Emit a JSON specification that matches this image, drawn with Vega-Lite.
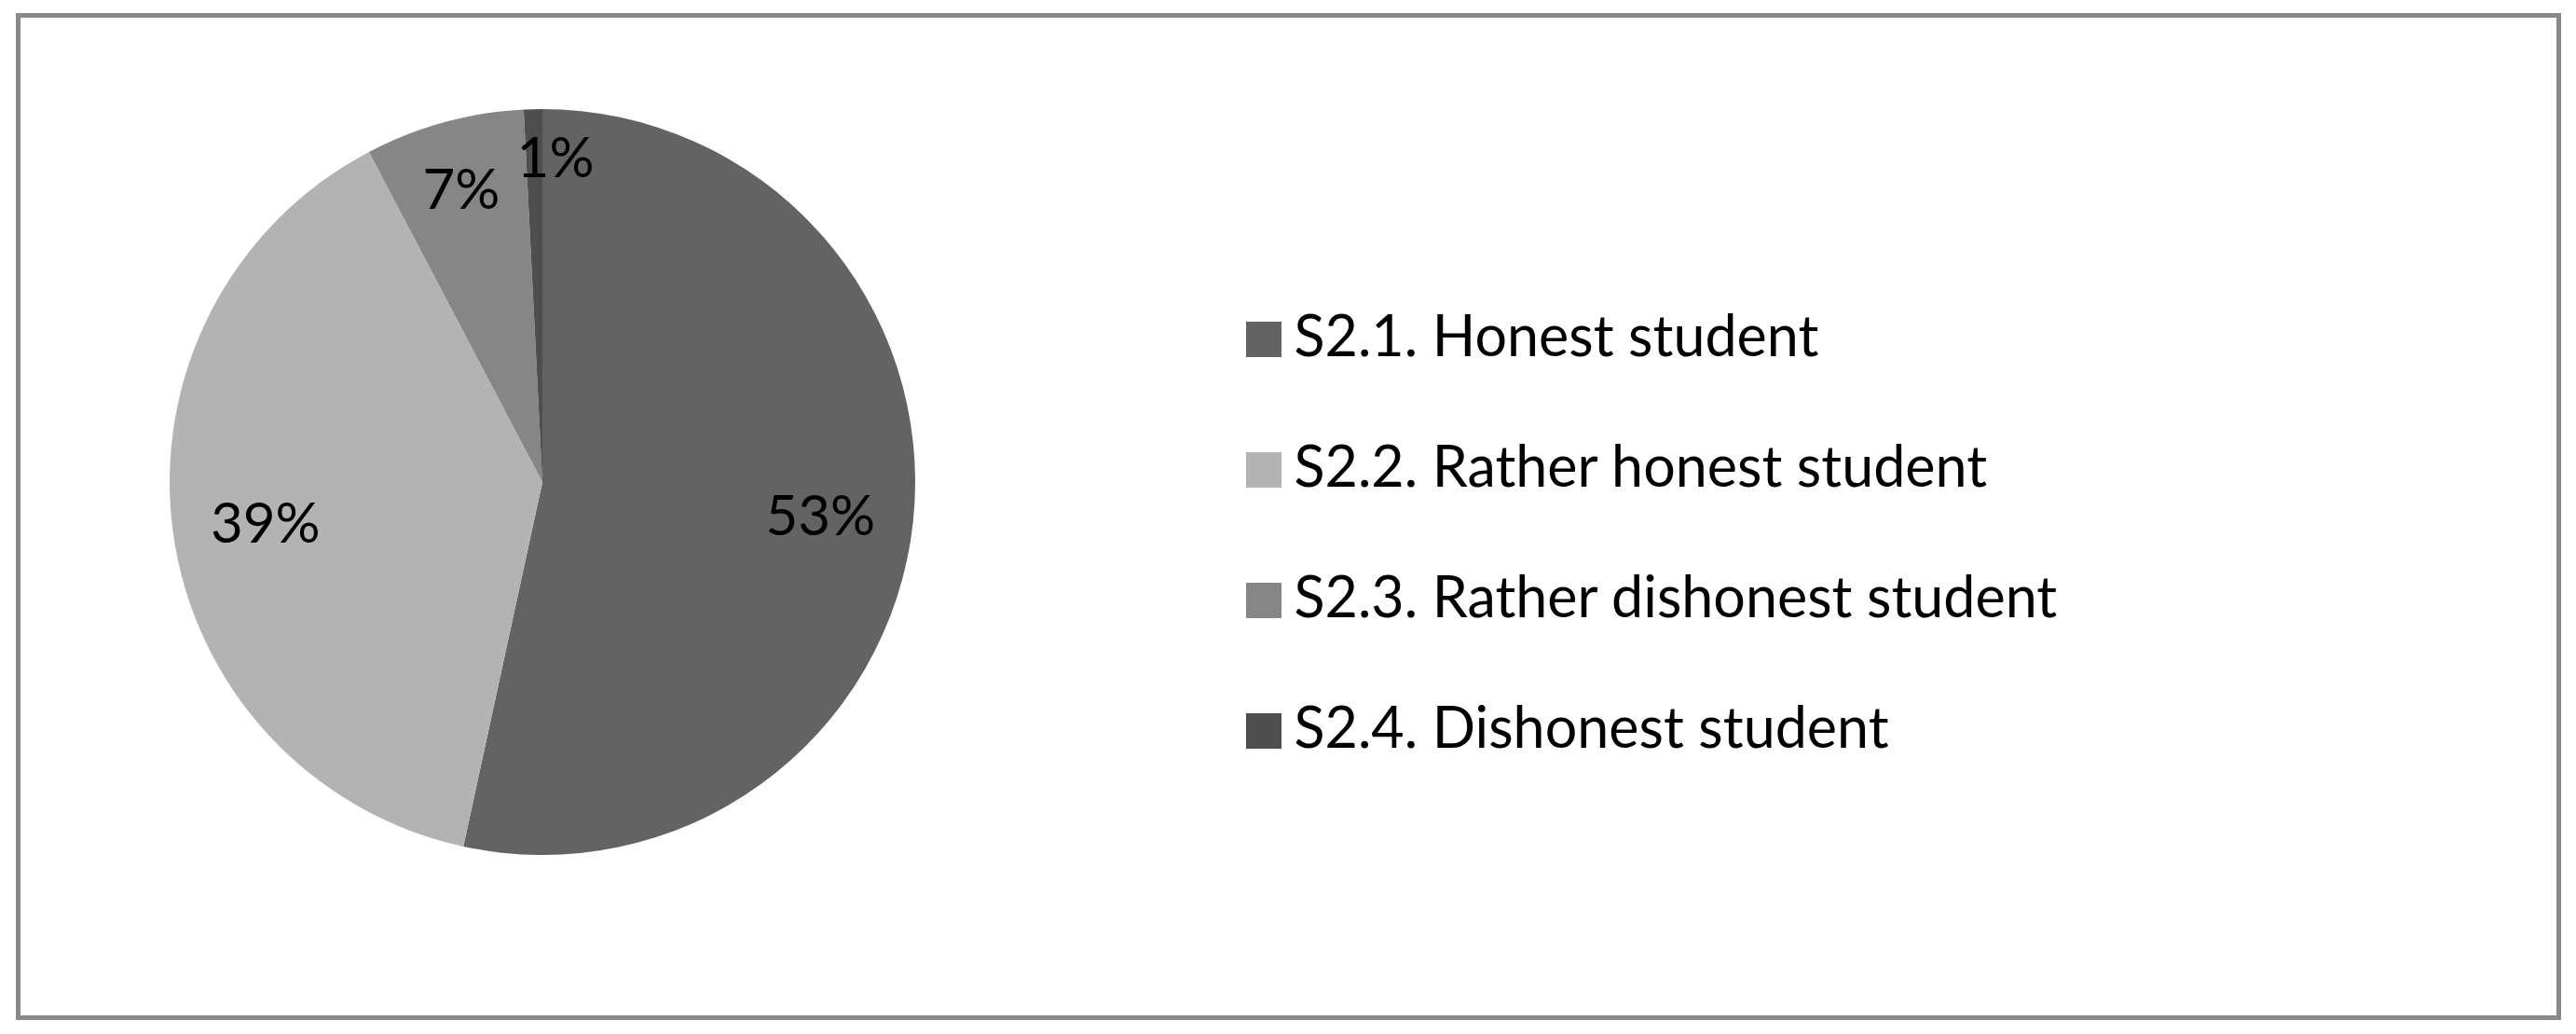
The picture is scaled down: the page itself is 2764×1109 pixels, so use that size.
{
  "$schema": "https://vega.github.io/schema/vega-lite/v6.json",
  "width": 2726,
  "height": 1075,
  "autosize": {"type": "none"},
  "padding": {"left": 19.5, "top": 16.5, "right": 18.5, "bottom": 17.5},
  "background": "white",
  "view": {"stroke": "#898989", "strokeWidth": 5, "fill": "white"},
  "config": {"view": {"stroke": "#898989", "strokeWidth": 5}},
  "data": {
    "values": [
      {"idx": 1, "cat": "S2.1. Honest student", "value": 53.4, "label": "53%"},
      {"idx": 2, "cat": "S2.2. Rather honest student", "value": 38.9, "label": "39%"},
      {"idx": 3, "cat": "S2.3. Rather dishonest student", "value": 6.9, "label": "7%"},
      {"idx": 4, "cat": "S2.4. Dishonest student", "value": 0.8, "label": "1%"}
    ]
  },
  "encoding": {
    "theta": {"field": "value", "type": "quantitative", "stack": true},
    "order": {"field": "idx", "type": "quantitative"},
    "color": {
      "field": "cat",
      "type": "nominal",
      "sort": null,
      "scale": {
        "domain": ["S2.1. Honest student", "S2.2. Rather honest student", "S2.3. Rather dishonest student", "S2.4. Dishonest student"],
        "range": ["#636363", "#b3b3b3", "#868686", "#4e4e4e"]
      },
      "legend": {
        "orient": "none",
        "legendX": 1306,
        "legendY": 317,
        "title": null,
        "padding": 0,
        "symbolType": "square",
        "symbolSize": 1444,
        "symbolStrokeWidth": 0,
        "symbolOpacity": 1,
        "labelFont": "Lato",
        "labelFontSize": 61,
        "labelColor": "black",
        "labelOffset": 2,
        "labelLimit": 2000,
        "rowPadding": 78
      }
    }
  },
  "layer": [
    {"mark": {"type": "arc", "x": 562.5, "y": 500.5, "radius": 400, "stroke": null}},
    {
      "mark": {
        "type": "text",
        "x": 562.5,
        "y": 500.5,
        "dy": 7,
        "font": "Lato",
        "fontSize": 60,
        "align": "center",
        "baseline": "middle",
        "thetaOffset": {"expr": "datum.cat === 'S2.4. Dishonest student' ? 0.065 : 0"},
        "radius": {"expr": "datum.cat === 'S2.3. Rather dishonest student' ? 330 : (datum.cat === 'S2.4. Dishonest student' ? 352 : 300)"}
      },
      "encoding": {
        "text": {"field": "label", "type": "nominal"},
        "color": {"value": "black"}
      }
    }
  ]
}
